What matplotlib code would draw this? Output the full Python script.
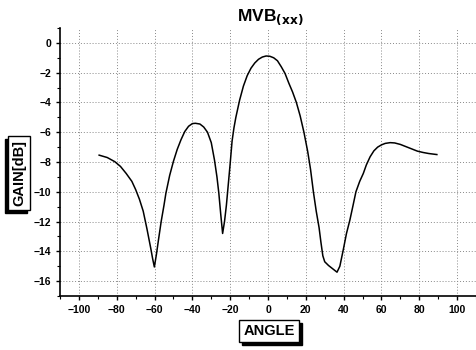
import matplotlib.pyplot as plt
from matplotlib.patches import Rectangle
from matplotlib.ticker import MultipleLocator

# Данные кривой
angle = [-89.3, -85, -81, -78, -75, -72, -70, -68, -66, -64,
         -62, -61, -60.1, -59, -58, -56.5, -55, -54, -52, -50,
         -48, -46, -44, -42, -40, -38.4, -36, -34, -32, -30,
         -28.3, -27, -26, -25, -24, -23, -22, -21, -20, -19,
         -18, -17, -15, -13, -11, -9, -7, -5, -3, -1,
         1, 3, 5, 7, 9, 11, 13, 15, 17, 19,
         21, 22.5, 24, 25.5, 27, 28, 29, 30, 32, 34,
         36.5, 38, 39.8, 41.5, 43.3, 45, 46.5, 48.5, 50.4, 52,
         54, 56, 58, 60, 62, 64.6, 67, 70, 73, 76,
         79, 82, 85, 89.3]
gain = [-7.54, -7.7, -7.98, -8.3, -8.77, -9.3, -9.85, -10.5, -11.3, -12.5,
        -13.8, -14.5, -15.05, -14.2, -13.3, -12.0, -10.9, -10.1, -8.9, -7.95,
        -7.15, -6.5, -5.95, -5.6, -5.42, -5.4, -5.45, -5.65, -6.0, -6.7,
        -7.87, -9.0, -10.1, -11.5, -12.8, -12.0, -10.9, -9.5, -8.1, -6.6,
        -5.7, -5.0, -3.84, -2.9, -2.2, -1.7, -1.35, -1.1, -0.95, -0.88,
        -0.9, -1.0, -1.2, -1.6, -2.05, -2.7, -3.3, -4.0, -4.9, -6.0,
        -7.3, -8.5, -10.0, -11.3, -12.4, -13.4, -14.3, -14.7, -14.95, -15.15,
        -15.4, -15.0, -13.9, -12.8, -11.9, -10.9, -10.0, -9.3, -8.77, -8.2,
        -7.65, -7.25, -7.0, -6.85, -6.75, -6.7, -6.72, -6.82, -6.97, -7.12,
        -7.27, -7.36, -7.43, -7.5]

x_ticks = [-100, -80, -60, -40, -20, 0, 20, 40, 60, 80, 100]
y_ticks = [0, -2, -4, -6, -8, -10, -12, -14, -16]

plt.rcParams['font.family'] = ['Liberation Sans', 'DejaVu Sans']
plt.rcParams['font.weight'] = 'bold'

fig = plt.figure(figsize=(4.76, 3.5), dpi=100)
ax = fig.add_axes([60 / 476, 1 - 296 / 350, 1 - 60 / 476, 268 / 350])

ax.plot(angle, gain, color='black', lw=1.1)

ax.set_xlim(-110, 110)
ax.set_ylim(-17, 1)
ax.set_xticks(x_ticks)
ax.set_yticks(y_ticks)
ax.xaxis.set_minor_locator(MultipleLocator(10))
ax.yaxis.set_minor_locator(MultipleLocator(1))
ax.tick_params(which='major', direction='out', length=3, width=1, labelsize=7.5)
ax.tick_params(which='minor', direction='out', length=2, width=0.8)
for lab in ax.get_xticklabels() + ax.get_yticklabels():
    lab.set_fontweight('bold')

ax.grid(True, which='major', linestyle=(0, (1, 2)), color='#888888', lw=0.7)
ax.spines['top'].set_visible(False)
ax.spines['right'].set_visible(False)
ax.spines['left'].set_linewidth(1.2)
ax.spines['bottom'].set_linewidth(1.2)

fig.text(270 / 476, 1 - 17 / 350, 'MVB$_{\\mathbf{(xx)}}$', ha='center', va='center',
         fontsize=12.5, fontweight='bold')

# Подписи осей в рамках
labels = []
labels.append((fig.text(269 / 476, 1 - 331 / 350, 'ANGLE', ha='center', va='center',
                        fontsize=10.5, fontweight='bold', zorder=5,
                        bbox=dict(boxstyle='square,pad=0.3', fc='white', ec='black', lw=1)),
               3, -3))
labels.append((fig.text(19 / 476, 1 - 173 / 350, 'GAIN[dB]', ha='center', va='center',
                        rotation=90, fontsize=10.5, fontweight='bold', zorder=5,
                        bbox=dict(boxstyle='square,pad=0.3', fc='white', ec='black', lw=1)),
               -3, -3))

fig.canvas.draw()
for t, dx, dy in labels:
    bb = t.get_bbox_patch().get_window_extent()
    # Тень рамки
    fig.patches.append(Rectangle((bb.x0 + dx, bb.y0 + dy), bb.width, bb.height,
                                 transform=None, fc='black', ec='black', zorder=1))

fig.savefig('out.png', dpi=100)
